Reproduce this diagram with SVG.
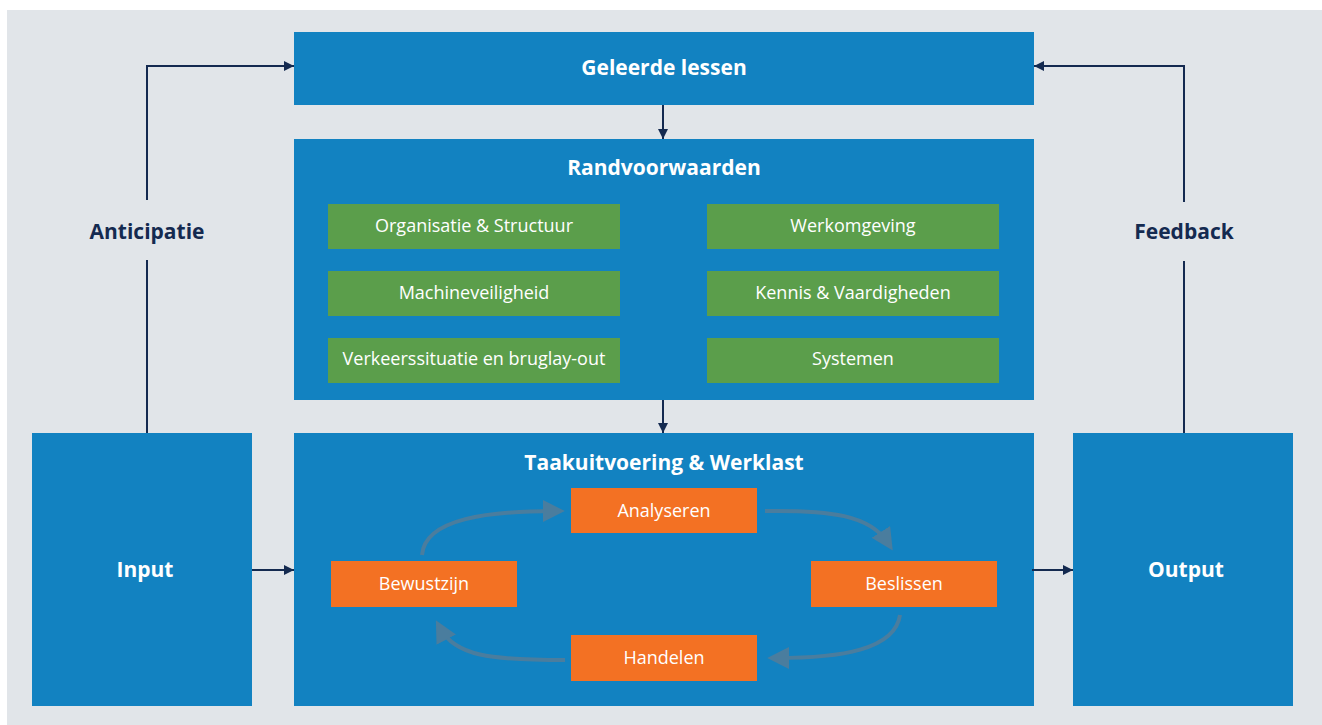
<svg xmlns="http://www.w3.org/2000/svg" width="1322" height="725" viewBox="0 0 1322 725">
<style>
.blue{fill:#1282c1}
.green{fill:#5b9e4b}
.orange{fill:#f37123}
.t{font-family:"Open Sans","Liberation Sans",sans-serif;fill:#ffffff;text-anchor:middle}
.title{font-size:21px;font-weight:bold}
.item{font-size:18px}
.side{font-family:"Open Sans","Liberation Sans",sans-serif;font-size:21px;font-weight:bold;fill:#142a50;text-anchor:middle}
.conn{fill:none;stroke:#142a50;stroke-width:2}
.cyc{fill:none;stroke:#4a7d9e;stroke-width:4}
</style>
<defs>
<marker id="ah" viewBox="0 0 10 10" refX="10" refY="5" markerWidth="10" markerHeight="10" markerUnits="userSpaceOnUse" orient="auto">
<path d="M0,0 L10,5 L0,10 z" fill="#142a50"/>
</marker>
<marker id="ch" viewBox="0 0 10 10" refX="6" refY="5" markerWidth="22" markerHeight="22" markerUnits="userSpaceOnUse" orient="auto">
<path d="M0,0 L10,5 L0,10 z" fill="#4a7d9e"/>
</marker>
</defs>
<rect x="7" y="10" width="1315" height="715" fill="#e1e5e9"/>
<g id="geleerde-lessen">
<rect class="blue" x="294" y="32" width="740" height="73"/>
<text class="t title" x="664" y="75">Geleerde lessen</text>
</g>
<g id="randvoorwaarden">
<rect class="blue" x="294" y="139" width="740" height="261"/>
<text class="t title" x="664" y="175">Randvoorwaarden</text>
</g>
<g id="organisatie"><rect class="green" x="328" y="204" width="292" height="45"/><text class="t item" x="474" y="232">Organisatie &amp; Structuur</text></g>
<g id="machineveiligheid"><rect class="green" x="328" y="271" width="292" height="45"/><text class="t item" x="474" y="299">Machineveiligheid</text></g>
<g id="verkeerssituatie"><rect class="green" x="328" y="338" width="292" height="45"/><text class="t item" x="474" y="365">Verkeerssituatie en bruglay-out</text></g>
<g id="werkomgeving"><rect class="green" x="707" y="204" width="292" height="45"/><text class="t item" x="853" y="232">Werkomgeving</text></g>
<g id="kennis"><rect class="green" x="707" y="271" width="292" height="45"/><text class="t item" x="853" y="299">Kennis &amp; Vaardigheden</text></g>
<g id="systemen"><rect class="green" x="707" y="338" width="292" height="45"/><text class="t item" x="853" y="365">Systemen</text></g>
<g id="taakuitvoering">
<rect class="blue" x="294" y="433" width="740" height="273"/>
<text class="t title" x="664" y="470">Taakuitvoering &amp; Werklast</text>
</g>
<g id="input"><rect class="blue" x="32" y="433" width="220" height="273"/><text class="t title" x="145" y="577">Input</text></g>
<g id="output"><rect class="blue" x="1073" y="433" width="220" height="273"/><text class="t title" x="1186" y="577">Output</text></g>
<g id="connectors">
<path class="conn" d="M147,433 V260"/>
<path class="conn" d="M147,200 V66 H294" marker-end="url(#ah)"/>
<path class="conn" d="M1184,433 V261"/>
<path class="conn" d="M1184,202 V66 H1034" marker-end="url(#ah)"/>
<path class="conn" d="M663,105 V139" marker-end="url(#ah)"/>
<path class="conn" d="M663,400 V433" marker-end="url(#ah)"/>
<path class="conn" d="M252,570 H294" marker-end="url(#ah)"/>
<path class="conn" d="M1032,570 H1073" marker-end="url(#ah)"/>
<path class="cyc" d="M422,555 C425,518 490,511 556,511" marker-end="url(#ch)"/>
<path class="cyc" d="M765,511 C830,510 870,515 888,543" marker-end="url(#ch)"/>
<path class="cyc" d="M900,615 C895,650 840,658 776,658" marker-end="url(#ch)"/>
<path class="cyc" d="M565,660 C490,660 455,656 440,628" marker-end="url(#ch)"/>
</g>
<g id="analyseren"><rect class="orange" x="571" y="488" width="186" height="45"/><text class="t item" x="664" y="517">Analyseren</text></g>
<g id="bewustzijn"><rect class="orange" x="331" y="561" width="186" height="46"/><text class="t item" x="424" y="590">Bewustzijn</text></g>
<g id="beslissen"><rect class="orange" x="811" y="561" width="186" height="46"/><text class="t item" x="904" y="590">Beslissen</text></g>
<g id="handelen"><rect class="orange" x="571" y="635" width="186" height="46"/><text class="t item" x="664" y="664">Handelen</text></g>
<g id="anticipatie"><text class="side" x="147" y="239">Anticipatie</text></g>
<g id="feedback"><text class="side" x="1184" y="239">Feedback</text></g>
</svg>
